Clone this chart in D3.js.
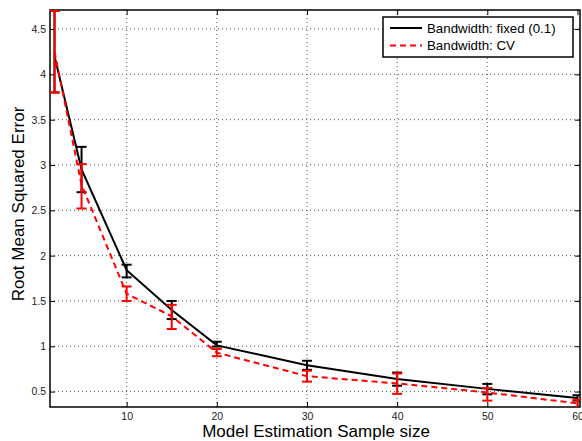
<!DOCTYPE html>
<html>
<head>
<meta charset="utf-8">
<script src="https://cdn.jsdelivr.net/npm/d3@7"></script>
<style>
  body { margin: 0; background: #fff; }
  text { font-family: "Liberation Sans", Arial, sans-serif; }
</style>
</head>
<body>
<div id="chart"></div>
<script>
const sampleSizes = [2, 5, 10, 15, 20, 30, 40, 50, 60];
const fixedMean = [4.2, 2.95, 1.84, 1.40, 1.01, 0.79, 0.64, 0.53, 0.43];
const fixedLow  = [3.8, 2.7, 1.76, 1.30, 0.997, 0.74, 0.565, 0.47, 0.40];
const fixedHigh = [4.7, 3.2, 1.90, 1.50, 1.05, 0.84, 0.71, 0.585, 0.46];
const cvMean = [4.25, 2.78, 1.58, 1.33, 0.93, 0.67, 0.59, 0.49, 0.37];
const cvLow  = [3.8, 2.52, 1.50, 1.19, 0.89, 0.61, 0.475, 0.40, 0.32];
const cvHigh = [4.7, 3.01, 1.66, 1.457, 0.97, 0.73, 0.70, 0.54, 0.41];
const xTicks = [10, 20, 30, 40, 50, 60];
const yTicks = [0.5, 1, 1.5, 2, 2.5, 3, 3.5, 4, 4.5];
const seriesNames = ['Bandwidth: fixed (0.1)', 'Bandwidth: CV'];

const W = 582, H = 441;
const margin = { top: 10, right: 2, bottom: 34, left: 50 };
const width = W - margin.left - margin.right,
      height = H - margin.top - margin.bottom;

const svg = d3.select('#chart').append('svg')
  .attr('width', W).attr('height', H);

const g = svg.append('g')
  .attr('transform', `translate(${margin.left},${margin.top})`);

const x = d3.scaleLinear().domain([1.5, 60.28]).range([0, width]);
const y = d3.scaleLinear().domain([0.33, 4.71]).range([height, 0]);

// grid
g.append('g').selectAll('line').data(xTicks.slice(0, -1)).join('line')
  .attr('x1', d => x(d)).attr('x2', d => x(d))
  .attr('y1', 0).attr('y2', height)
  .attr('stroke', '#555').attr('stroke-width', 1).attr('stroke-dasharray', '1,3');
g.append('g').selectAll('line').data(yTicks).join('line')
  .attr('x1', 0).attr('x2', width)
  .attr('y1', d => y(d)).attr('y2', d => y(d))
  .attr('stroke', '#555').attr('stroke-width', 1).attr('stroke-dasharray', '1,3');

// axes (inner ticks, matlab style)
g.append('g').attr('transform', `translate(0,${height})`)
  .call(d3.axisBottom(x).tickValues(xTicks).tickSize(-5).tickPadding(6).tickFormat(d3.format('d')));
g.append('g')
  .call(d3.axisLeft(y).tickValues(yTicks).tickSize(-5).tickPadding(4).tickFormat(d => d));
g.append('g').call(d3.axisTop(x).tickValues(xTicks).tickSize(-5).tickFormat(''));
g.append('g').attr('transform', `translate(${width},0)`)
  .call(d3.axisRight(y).tickValues(yTicks).tickSize(-5).tickFormat(''));
g.selectAll('.domain').remove();
g.selectAll('.tick line').attr('stroke', '#000');
g.selectAll('.tick text').attr('font-size', 10.5).attr('fill', '#222');

g.append('rect').attr('width', width).attr('height', height)
  .attr('fill', 'none').attr('stroke', '#000').attr('stroke-width', 1.5);

// clip
svg.append('defs').append('clipPath').attr('id', 'clip')
  .append('rect').attr('width', width).attr('height', height);
const plot = g.append('g').attr('clip-path', 'url(#clip)');

function drawSeries(mean, low, high, color, dash) {
  const pts = sampleSizes.map((s, i) => ({ s, m: mean[i], lo: low[i], hi: high[i] }));
  const cap = 5;
  const eb = plot.append('g').attr('stroke', color).attr('stroke-width', 2);
  eb.selectAll('.v').data(pts).join('line')
    .attr('x1', d => x(d.s)).attr('x2', d => x(d.s))
    .attr('y1', d => y(d.lo)).attr('y2', d => y(d.hi));
  eb.selectAll('.lo').data(pts).join('line')
    .attr('x1', d => x(d.s) - cap).attr('x2', d => x(d.s) + cap)
    .attr('y1', d => y(d.lo)).attr('y2', d => y(d.lo));
  eb.selectAll('.hi').data(pts).join('line')
    .attr('x1', d => x(d.s) - cap).attr('x2', d => x(d.s) + cap)
    .attr('y1', d => y(d.hi)).attr('y2', d => y(d.hi));
  plot.append('path').datum(pts)
    .attr('fill', 'none').attr('stroke', color).attr('stroke-width', 2)
    .attr('stroke-dasharray', dash)
    .attr('d', d3.line().x(d => x(d.s)).y(d => y(d.m)));
}

drawSeries(fixedMean, fixedLow, fixedHigh, '#000', null);
drawSeries(cvMean, cvLow, cvHigh, '#ff0000', '6,4');

// labels
svg.append('text')
  .attr('x', 316).attr('y', 437)
  .attr('text-anchor', 'middle').attr('font-size', 17)
  .text('Model Estimation Sample size');
svg.append('text')
  .attr('transform', 'translate(24,204) rotate(-90)')
  .attr('text-anchor', 'middle').attr('font-size', 17)
  .text('Root Mean Squared Error');

// legend
const leg = svg.append('g').attr('transform', 'translate(383,17)');
leg.append('rect').attr('width', 190).attr('height', 40)
  .attr('fill', '#fff').attr('stroke', '#000').attr('stroke-width', 1.5);
const rows = [{ c: '#000', d: null }, { c: '#ff0000', d: '6,4' }];
rows.forEach((r, i) => {
  const yy = 11 + i * 17.5;
  leg.append('line').attr('x1', 7).attr('x2', 39).attr('y1', yy).attr('y2', yy)
    .attr('stroke', r.c).attr('stroke-width', 2).attr('stroke-dasharray', r.d);
  leg.append('text').attr('x', 44).attr('y', yy + 4.5)
    .attr('font-size', 13.3).text(seriesNames[i]);
});
</script>
</body>
</html>
